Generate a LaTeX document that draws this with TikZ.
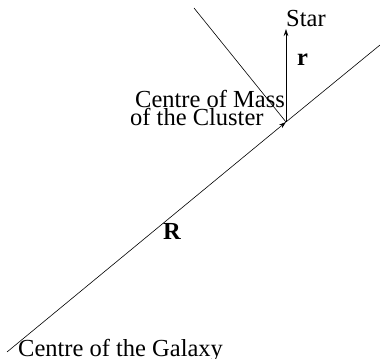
\documentclass[tikz,border=0pt]{standalone}
\usepackage{fontspec}
\setmainfont{Liberation Serif}
\usepackage{tikz}
\usetikzlibrary{arrows.meta}

\begin{document}
\begin{tikzpicture}[
  x=1bp, y=1bp,
  lbl/.style={inner sep=0pt, anchor=base west,
    font=\fontsize{24.5bp}{24.5bp}\selectfont},
  vec/.style={-{Stealth[length=7bp,width=4.5bp]}, line width=0.6bp},
  ln/.style={line width=0.6bp},
]
  \useasboundingbox (0,0) rectangle (380,359);

  \coordinate (galaxy)  at (7,7);
  \coordinate (cluster) at (286,237);
  \coordinate (star)    at (286,330);
  \coordinate (far)     at (380,314);
  \coordinate (top)     at (194,351);

  \draw[vec] (galaxy)  -- (cluster);
  \draw[ln]  (cluster) -- (far);
  \draw[ln]  (top)     -- (cluster);
  \draw[vec] (cluster) -- (star);

  \node[lbl] (starlbl) at (286,333) {Star};
  \node[lbl] (rlbl)    at (297,294) {\textbf{r}};
  \node[lbl] (Rlbl)    at (163,120) {\textbf{R}};
  \node[lbl] (com1)    at (135,252) {Centre of Mass};
  \node[lbl] (com2)    at (130,234) {of the Cluster};
  \node[lbl] (gal)     at (18,3)    {Centre of the Galaxy};
\end{tikzpicture}
\end{document}
